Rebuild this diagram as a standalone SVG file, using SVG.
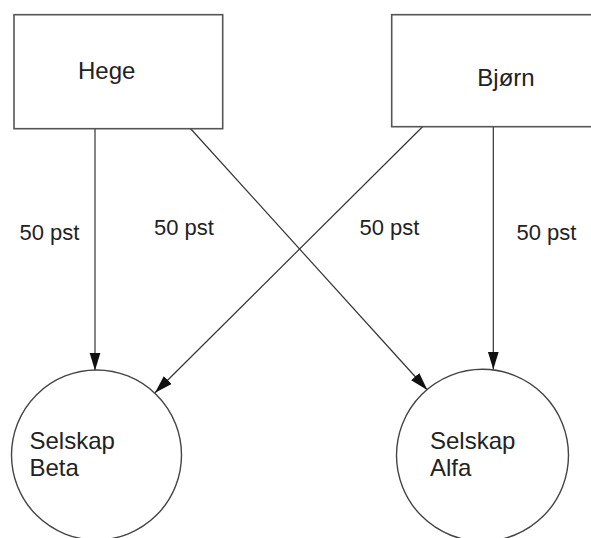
<svg xmlns="http://www.w3.org/2000/svg" width="591" height="538" viewBox="0 0 591 538">
  <style>
    .box { fill: #ffffff; stroke: #555555; stroke-width: 1.6; }
    .co { fill: #ffffff; stroke: #444444; stroke-width: 1.4; }
    .edge { fill: none; stroke: #333333; stroke-width: 1.2; marker-end: url(#arrow); }
    text { font-family: "Liberation Sans", Arial, Helvetica, sans-serif; fill: #222222; }
    .name { font-size: 24px; }
    .pct { font-size: 22px; }
  </style>
  <defs>
    <marker id="arrow" markerUnits="userSpaceOnUse" markerWidth="20" markerHeight="12" refX="18" refY="6" orient="auto">
      <path d="M0,0.5 L18,6 L0,11.5 z" fill="#111111"/>
    </marker>
  </defs>
  <rect width="591" height="538" fill="#ffffff"/>

  <!-- ownership connectors -->
  <g id="connectors">
    <line class="edge" x1="95" y1="129" x2="95" y2="370.5"/>
    <line class="edge" x1="190" y1="128" x2="427.3" y2="390"/>
    <line class="edge" x1="423.3" y1="126" x2="155" y2="392.7"/>
    <line class="edge" x1="493.3" y1="127" x2="493.3" y2="369.5"/>
    <text class="pct" x="19.5" y="239.5">50 pst</text>
    <text class="pct" x="154" y="235">50 pst</text>
    <text class="pct" x="359.5" y="234.5">50 pst</text>
    <text class="pct" x="516.5" y="240">50 pst</text>
  </g>

  <!-- owners -->
  <g id="hege">
    <rect class="box" x="14" y="14.7" width="208.7" height="114"/>
    <text class="name" x="78" y="79">Hege</text>
  </g>
  <g id="bjorn">
    <rect class="box" x="391.7" y="14.7" width="210" height="112"/>
    <text class="name" x="477.3" y="86">Bjørn</text>
  </g>

  <!-- companies -->
  <g id="selskap-beta">
    <circle class="co" cx="96.5" cy="455" r="85"/>
    <text class="name" x="29.5" y="449">Selskap</text>
    <text class="name" x="29.5" y="476">Beta</text>
  </g>
  <g id="selskap-alfa">
    <circle class="co" cx="482.5" cy="455.3" r="86"/>
    <text class="name" x="430" y="449">Selskap</text>
    <text class="name" x="430" y="476">Alfa</text>
  </g>
</svg>
